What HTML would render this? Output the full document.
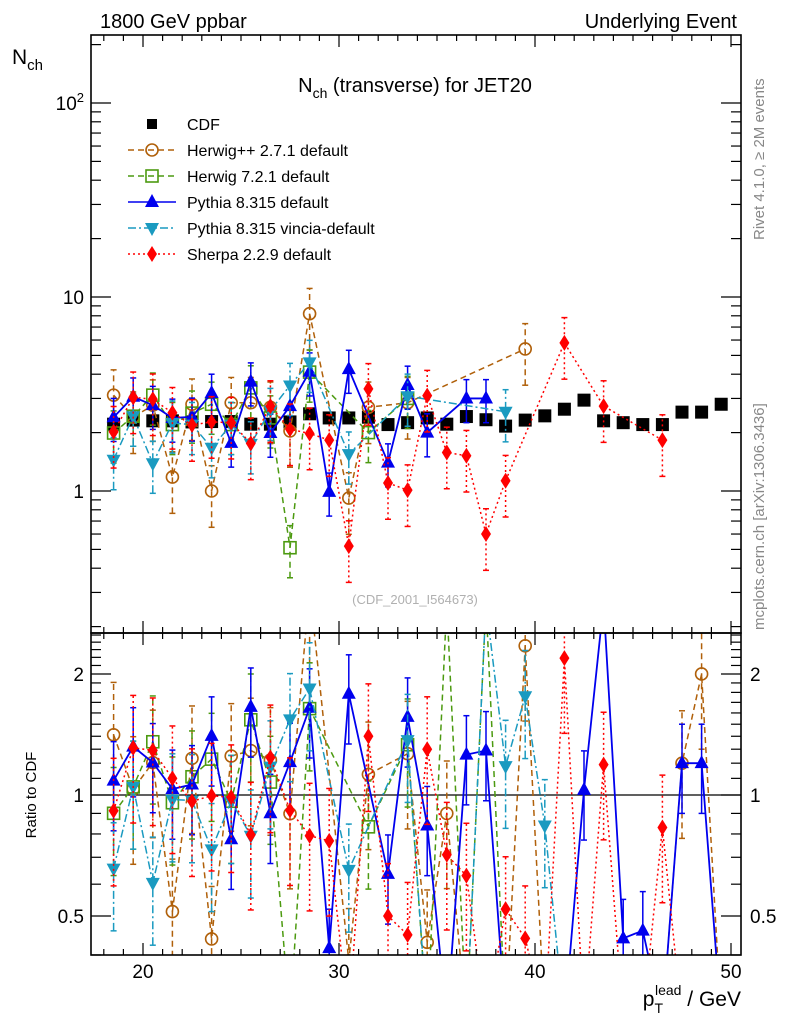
<!DOCTYPE html>
<html><head><meta charset="utf-8"><style>
html,body{margin:0;padding:0;background:#fff;width:786px;height:1024px;overflow:hidden;}
svg{display:block;overflow:hidden;}
svg text{font-family:"Liberation Sans",sans-serif;}
</style></head><body>
<svg id="chart" width="786" height="1024" viewBox="0 0 786 1024" xmlns="http://www.w3.org/2000/svg">
<defs>
<clipPath id="cm"><rect x="91" y="35" width="650" height="598"/></clipPath>
<clipPath id="cr"><rect x="91" y="633" width="650" height="322"/></clipPath>
</defs>
<g id="gm" clip-path="url(#cm)"></g>
<g id="gr" clip-path="url(#cr)"></g>
<g id="axes"></g>
<text x="100" y="28" font-size="20">1800 GeV ppbar</text>
<text x="737" y="28" font-size="20" text-anchor="end">Underlying Event</text>
<text x="12" y="64" font-size="21">N<tspan font-size="15" dy="6">ch</tspan></text>
<text x="415" y="92" font-size="20" text-anchor="middle">N<tspan font-size="14" dy="6">ch</tspan><tspan dy="-6"> (transverse) for JET20</tspan></text>
<text x="415" y="604" font-size="13" fill="#b0b0b0" text-anchor="middle">(CDF_2001_I564673)</text>
<text transform="translate(764,240) rotate(-90)" font-size="15" fill="#888">Rivet 4.1.0, ≥ 2M events</text>
<text transform="translate(764,630) rotate(-90)" font-size="15" fill="#888">mcplots.cern.ch [arXiv:1306.3436]</text>
<text transform="translate(36,795) rotate(-90)" font-size="15" text-anchor="middle">Ratio to CDF</text>
<text x="741" y="1006" font-size="21" text-anchor="end">p<tspan font-size="14" dy="7">T</tspan><tspan font-size="14" dx="-8" dy="-18">lead</tspan><tspan dy="11"> / GeV</tspan></text>
<g id="legend"></g>
</svg>
<script>
const bins=[18.5,19.5,20.5,21.5,22.5,23.5,24.5,25.5,26.5,27.5,28.5,29.5,30.5,31.5,32.5,33.5,34.5,35.5,36.5,37.5,38.5,39.5,40.5,41.5,42.5,43.5,44.5,45.5,46.5,47.5,48.5,49.5];
const cdfVals=[2.21,2.32,2.3,2.3,2.27,2.28,2.28,2.21,2.21,2.27,2.5,2.38,2.38,2.4,2.2,2.25,2.38,2.21,2.42,2.33,2.16,2.32,2.44,2.64,2.94,2.3,2.25,2.2,2.2,2.55,2.55,2.8];
const herwigppVals=[3.12,2.4,2.77,1.18,2.8,1.0,2.85,2.85,2.7,2.04,8.2,null,0.92,2.7,null,2.85,null,null,null,null,null,5.4,null,null,null,null,null,null,null,null,null,null];
const herwig7Vals=[1.99,2.43,3.12,2.2,2.52,2.8,2.2,3.4,2.38,0.51,4.1,null,null,2.0,null,3.0,null,null,null,null,null,null,null,null,null,null,null,null,null,null,null,null];
const pythiaVals=[2.4,3.06,2.77,2.38,2.41,3.2,1.77,3.66,1.99,2.74,4.12,0.99,4.25,null,1.4,3.52,2.0,null,3.0,3.0,null,null,null,null,null,null,null,null,null,null,null,null];
const vinciaVals=[1.45,2.43,1.39,2.24,2.2,1.67,2.2,1.75,2.6,3.5,4.6,null,1.55,null,null,3.08,null,null,null,null,2.56,null,null,null,null,null,null,null,null,null,null,null];
const sherpaVals=[2.02,3.04,2.97,2.53,2.19,2.27,2.25,1.76,2.74,2.08,1.98,1.83,0.52,3.36,1.1,1.01,3.1,1.58,1.52,0.6,1.13,null,null,5.8,null,2.74,null,null,1.83,null,null,null];
const tailStart=16;
const herwigppRatioTail=[0.43,0.9,0.2,0.2,0.2,2.35,0.2,0.2,0.2,0.2,0.2,0.2,0.2,1.2,2.0,0.2];
const herwig7RatioTail=[0.2,3.0,0.2,3.0,0.2,0.2,0.2,0.2,0.2,0.2,0.2,0.2,0.2,0.2,0.2,0.2];
const pythiaRatioTail=[0.84,0.2,1.26,1.29,0.2,0.2,0.2,0.2,1.03,3.0,0.44,0.46,0.2,1.2,1.2,0.2];
const vinciaRatioTail=[0.2,0.2,0.2,3.0,1.18,1.76,0.84,0.2,0.2,0.2,0.2,0.2,0.2,0.2,0.2,0.2];
const sherpaRatioTail=[1.3,0.71,0.63,0.2,0.52,0.44,0.2,2.19,0.2,1.19,0.2,0.2,0.83,0.2,0.2,0.2];
const xTicks=[20,30,40,50];
const ratioTicks=[0.5,1,2];

const X=v=>143+(v-20)*19.6;
const CY=y=>Math.max(5,Math.min(1020,y));
const Y=v=>CY(491-194*Math.log10(v));
const R=v=>CY(795-402*Math.log10(v));
const NS="http://www.w3.org/2000/svg";
function mk(tag,at,parent){const e=document.createElementNS(NS,tag);for(const k in at)e.setAttribute(k,at[k]);parent.appendChild(e);return e;}
const gm=document.getElementById('gm'),gr=document.getElementById('gr'),ax=document.getElementById('axes'),lg=document.getElementById('legend');

const series=[
 {key:'herwigpp',vals:herwigppVals,tail:herwigppRatioTail,col:'#b0600a',dash:'6,4',mark:'circle',err:0.35,label:'Herwig++ 2.7.1 default'},
 {key:'herwig7',vals:herwig7Vals,tail:herwig7RatioTail,col:'#4c9a10',dash:'6,4',mark:'square',err:0.3,label:'Herwig 7.2.1 default'},
 {key:'pythia',vals:pythiaVals,tail:pythiaRatioTail,col:'#0000ee',dash:'',mark:'up',err:0.25,label:'Pythia 8.315 default'},
 {key:'vincia',vals:vinciaVals,tail:vinciaRatioTail,col:'#1a9ac0',dash:'8,3,2,3',mark:'down',err:0.3,label:'Pythia 8.315 vincia-default'},
 {key:'sherpa',vals:sherpaVals,tail:sherpaRatioTail,col:'#ff0000',dash:'2,3',mark:'diamond',err:0.35,label:'Sherpa 2.2.9 default'}
];
function marker(p,kind,x,y,col){
 let e;
 if(kind==='circle')e=mk('circle',{cx:x,cy:y,r:6,fill:'#fff','fill-opacity':0,stroke:col,'stroke-width':1.6},p);
 else if(kind==='square')e=mk('rect',{x:x-6,y:y-6,width:12,height:12,fill:'none',stroke:col,'stroke-width':1.6},p);
 else if(kind==='up')e=mk('path',{d:`M${x},${y-8}L${x+7},${y+5}L${x-7},${y+5}Z`,fill:col},p);
 else if(kind==='down')e=mk('path',{d:`M${x},${y+8}L${x+7},${y-5}L${x-7},${y-5}Z`,fill:col},p);
 else if(kind==='diamond')e=mk('path',{d:`M${x},${y-8}L${x+5},${y}L${x},${y+8}L${x-5},${y}Z`,fill:col},p);
 else e=mk('rect',{x:x-6,y:y-6,width:12,height:12,fill:col},p);
 return e;
}
function drawSeries(p,pts,Yf,s,name){
 const g=mk('g',{},p);
 
 
 if(pts.length>1){
  const l=mk('polyline',{points:pts.map(q=>X(q[0])+','+Yf(q[1])).join(' '),fill:'none',stroke:s.col,'stroke-width':s.key==='pythia'?1.8:1.5,'stroke-dasharray':s.dash},g);
  
  
 }
 pts.forEach(q=>{
  const x=X(q[0]),y=Yf(q[1]);
  if(q[2]){
   const lo=Yf(Math.max(q[1]*(1-s.err),0.01)),hi=Yf(q[1]*(1+s.err));
   mk('line',{x1:x,x2:x,y1:lo,y2:hi,stroke:s.col,'stroke-width':1.5,'stroke-dasharray':s.dash},g);
   mk('line',{x1:x-3,x2:x+3,y1:lo,y2:lo,stroke:s.col,'stroke-width':1.5},g);
   mk('line',{x1:x-3,x2:x+3,y1:hi,y2:hi,stroke:s.col,'stroke-width':1.5},g);
  }
  if(y>=1010)return;
  const m=marker(g,s.mark,x,y,s.col);
  
  
 });
}
const cg=mk('g',{},gm);


const rl=mk('line',{x1:91,x2:741,y1:R(1),y2:R(1),stroke:'#000','stroke-width':1.3},gr);


series.forEach(s=>{
 const mp=[],rp=[];
 bins.forEach((b,i)=>{
  if(s.vals[i]!=null)mp.push([b,s.vals[i],true]);
  if(i<tailStart){ if(s.vals[i]!=null)rp.push([b,s.vals[i]/cdfVals[i],true]); }
  else { const t=s.tail[i-tailStart]; if(t!=null)rp.push([b,t,t>0.3&&t<2.6]); }
 });
 drawSeries(gm,mp,Y,s,s.key+'-series');
 drawSeries(gr,rp,R,s,s.key+'-ratio-series');
});
bins.forEach((b,i)=>{
 const x=X(b),y=Y(cdfVals[i]);
 const r=mk('rect',{x:x-6.5,y:y-6.5,width:13,height:13,fill:'#000'},cg);
 
 
});
mk('rect',{x:91,y:35,width:650,height:598,fill:'none',stroke:'#000','stroke-width':1.6},ax);
mk('rect',{x:91,y:633,width:650,height:322,fill:'none',stroke:'#000','stroke-width':1.6},ax);
for(let v=18;v<=50;v++){
 const x=X(v),big=v%10===0,L=big?12:6;
 [[35,1],[633,-1],[633,1],[955,-1]].forEach(([y,d])=>mk('line',{x1:x,x2:x,y1:y,y2:y+d*L,stroke:'#000','stroke-width':1.2},ax));
}
xTicks.forEach(v=>{const t=mk('text',{x:X(v),y:978,'font-size':19,'text-anchor':'middle'},ax);t.textContent=v;
 });
for(let d=-1;d<=2;d++)for(let m=1;m<=9;m++){
 const v=m*Math.pow(10,d),y=491-194*Math.log10(v);if(y<35||y>633)continue;
 const L=m===1?20:10;
 mk('line',{x1:91,x2:91+L,y1:y,y2:y,stroke:'#000','stroke-width':1.2},ax);
 mk('line',{x1:741,x2:741-L,y1:y,y2:y,stroke:'#000','stroke-width':1.2},ax);
}
[['1',1],['10',10]].forEach(([s,v])=>{const t=mk('text',{x:84,y:Y(v)+7,'font-size':19,'text-anchor':'end'},ax);t.textContent=s;
 });
{const t=mk('text',{x:84,y:Y(100)+7,'font-size':19,'text-anchor':'end'},ax);t.innerHTML='10<tspan font-size="13" dy="-8">2</tspan>';
 }
for(let v=0.4;v<=2.55;v+=0.1){
 const vv=Math.round(v*10)/10,y=795-402*Math.log10(vv);if(y<633||y>955)continue;
 const big=ratioTicks.includes(vv),L=big?20:10;
 mk('line',{x1:91,x2:91+L,y1:y,y2:y,stroke:'#000','stroke-width':1.2},ax);
 mk('line',{x1:741,x2:741-L,y1:y,y2:y,stroke:'#000','stroke-width':1.2},ax);
}
ratioTicks.forEach(v=>{
 const a=mk('text',{x:84,y:R(v)+7,'font-size':19,'text-anchor':'end'},ax);a.textContent=v;
 
 const b=mk('text',{x:750,y:R(v)+7,'font-size':19},ax);b.textContent=v;
 
});
const rows=[{label:'CDF',mark:'cdf',col:'#000'}].concat(series);
rows.forEach((s,i)=>{
 const y=124+i*26,g=mk('g',{},lg);
 
 
 if(s.mark!=='cdf')mk('line',{x1:128,x2:176,y1:y,y2:y,stroke:s.col,'stroke-width':1.5,'stroke-dasharray':s.dash},g);
 if(s.mark==='cdf')mk('rect',{x:147,y:y-5,width:10,height:10,fill:'#000'},g);
 else marker(g,s.mark,152,y,s.col);
 const t=mk('text',{x:187,y:y+6,'font-size':16},g);t.textContent=s.label;
});
</script>
</body></html>
